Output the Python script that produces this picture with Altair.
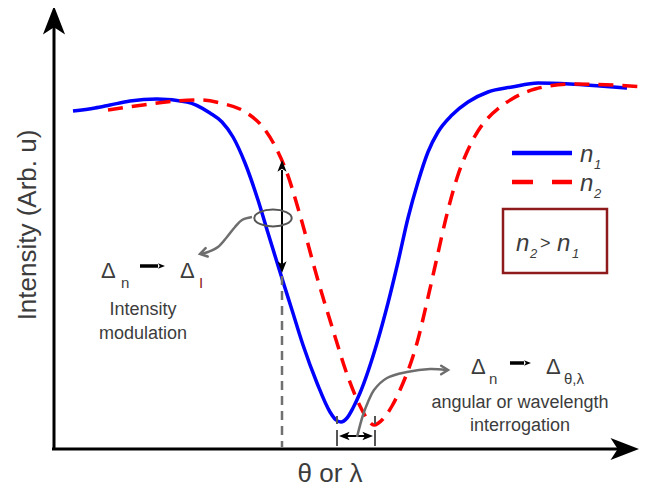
import altair as alt
import pandas as pd

# ---- curve data (x = angle/wavelength position, y = intensity position; schematic units) ----
blue_x = [73, 95, 110, 130, 157, 187, 210, 222, 233, 245, 258, 268, 280, 292, 303, 317, 330, 336, 341, 347, 353, 360,
          377, 388, 398, 408, 418, 428, 438, 452, 468, 488, 512, 538, 570, 600, 627]
blue_y = [111, 108, 105, 101, 99, 102, 113, 122, 137, 163, 200, 233, 272, 310, 345, 383, 412, 420, 422, 418, 408, 393,
          343, 303, 262, 218, 182, 152, 132, 115, 102, 92, 87, 83, 84, 86, 88]
red_x = [108, 143, 177, 200, 220, 247, 262, 275, 287, 300, 317, 333, 348, 360, 368, 374, 383, 392, 400, 417, 429, 436,
         446, 457, 467, 478, 488, 500, 512, 535, 573, 613, 645]
red_y = [110, 105, 101, 100, 103, 113, 126, 146, 173, 215, 277, 330, 377, 406, 420, 425, 419, 406, 390, 343, 293, 262,
         218, 178, 152, 131, 118, 107, 99, 89, 84, 85, 87]

# ---- annotation geometry ----
axis_x = [54, 54]
axis_y = [449, 24]
xaxis_x = [52, 622]
xaxis_y = [449, 449]

FONT = "Liberation Sans"
TXT = "#3c3c3c"
GRAY = "#6e6e6e"

X = alt.X("x:Q", scale=alt.Scale(domain=[8, 647], nice=False, zero=False), axis=None)
Y = alt.Y("y:Q", scale=alt.Scale(domain=[8, 489], nice=False, zero=False, reverse=True), axis=None)

def line(xs, ys, **kw):
    df = pd.DataFrame({"x": xs, "y": ys, "o": list(range(len(xs)))})
    return alt.Chart(df).mark_line(**kw).encode(x=X, y=Y, order="o:Q")

ARROW = "M0,0 L0.7,1.8 L0,1.35 L-0.7,1.8 Z"
CHEV = "M-0.75,1.2 L0,0 L0.75,1.2"

def heads(xs, ys, angles, size, color="black", path=ARROW, filled=True, sw=2):
    df = pd.DataFrame({"x": xs, "y": ys, "a": angles})
    if filled:
        m = alt.Chart(df).mark_point(shape=path, filled=True, fill=color, strokeWidth=0, size=size, opacity=1)
    else:
        m = alt.Chart(df).mark_point(shape=path, filled=False, stroke=color, strokeWidth=sw, size=size, opacity=1,
                                     strokeJoin="miter", strokeCap="round")
    return m.encode(x=X, y=Y, angle=alt.Angle("a:Q", scale=None))

def texts(items, size, color=TXT, style="normal", align="left", baseline="alphabetic", font=FONT, angle=0):
    df = pd.DataFrame(items, columns=["t", "x", "y"])
    kw = dict(fontSize=size, color=color, fontStyle=style, align=align, baseline=baseline, font=font)
    if angle:
        kw["angle"] = angle
    return alt.Chart(df).mark_text(**kw).encode(x=X, y=Y, text="t:N")

layers = []
# axes
layers.append(line(axis_x, axis_y, color="black", strokeWidth=3))
layers.append(line(xaxis_x, xaxis_y, color="black", strokeWidth=3))
layers.append(heads([54, 639], [6, 449], [0, 90], 1000))

# curves
layers.append(line(blue_x, blue_y, color="#0000ff", strokeWidth=3.5, interpolate="monotone"))
layers.append(line(red_x, red_y, color="#ff0000", strokeWidth=3.5, interpolate="monotone", strokeDash=[15, 9]))

# intensity modulation annotation
layers.append(line([282, 282], [276, 447], color="#707070", strokeWidth=2.5, strokeDash=[9, 6]))
layers.append(line([282, 282], [170, 264], color="black", strokeWidth=2))
layers.append(heads([282, 282], [160, 273], [0, 180], 170))
ell = pd.DataFrame({"x": [273], "y": [218]})
layers.append(alt.Chart(ell).mark_point(shape="M-1,0 A1,0.45 0 1,0 1,0 A1,0.45 0 1,0 -1,0 Z", filled=False,
                                        stroke="#555555", strokeWidth=2, size=1400, opacity=1).encode(x=X, y=Y))
layers.append(line([252, 242, 235, 227, 218, 208, 201], [217, 220, 227, 237, 247, 252, 254],
                   color=GRAY, strokeWidth=2.5, interpolate="catmull-rom"))
layers.append(heads([200], [254], [256], 130, color=GRAY, path=CHEV, filled=False, sw=2.5))
# small black arrows inside the delta expressions
layers.append(line([140, 158], [266, 266], color="black", strokeWidth=3.5))
layers.append(heads([165], [266], [90], 60))
layers.append(line([510, 524], [363, 363], color="black", strokeWidth=3.5))
layers.append(heads([531], [363], [90], 60))

# angular interrogation annotation
layers.append(line([337, 337], [416, 424], color="#555555", strokeWidth=2))
layers.append(line([375, 375], [416, 424], color="#555555", strokeWidth=2))
layers.append(line([337, 337], [430, 446], color="#555555", strokeWidth=2))
layers.append(line([375, 375], [430, 446], color="#555555", strokeWidth=2))
layers.append(line([345, 367], [436, 436], color="black", strokeWidth=2))
layers.append(heads([339, 373], [436, 436], [270, 90], 140))
layers.append(line([357, 363, 368, 374, 387, 407, 430, 446], [437, 415, 402, 390, 378, 372, 369, 370],
                   color=GRAY, strokeWidth=2.5, interpolate="catmull-rom"))
layers.append(heads([448], [370], [90], 130, color=GRAY, path=CHEV, filled=False, sw=2.5))

# legend
layers.append(line([512, 572], [153, 153], color="#0000ff", strokeWidth=4.5))
layers.append(line([512, 572], [182, 182], color="#ff0000", strokeWidth=4.5, strokeDash=[21, 19]))
box = pd.DataFrame({"x": [503], "x2": [607], "y": [209], "y2": [273]})
layers.append(alt.Chart(box).mark_rect(fill="white", stroke="#8e1b1b", strokeWidth=2.5).encode(
    x=X, x2="x2:Q", y=Y, y2="y2:Q"))

# texts
layers.append(texts([("Intensity (Arb. u)", 28, 225)], 26, align="center", baseline="middle", angle=270))
layers.append(texts([("θ or λ", 330, 482)], 26, align="center"))
layers.append(texts([("n", 580, 162), ("n", 580, 191), ("n", 516, 251), ("n", 557, 251)], 24, style="italic"))
layers.append(texts([("1", 594, 169), ("2", 594, 198), ("2", 530, 258), ("1", 572, 258)], 13, style="italic"))
layers.append(texts([(">", 540, 249)], 18))
layers.append(texts([("Δ", 101, 278), ("Δ", 180, 278), ("Δ", 471, 374), ("Δ", 546, 374)], 22))
layers.append(texts([("n", 121, 288), ("n", 489, 384), ("θ,λ", 564, 384)], 15))
layers.append(texts([("I", 199, 288)], 15, color="#8e1b1b"))
layers.append(texts([("Intensity", 143, 315), ("modulation", 143, 339)], 18, align="center"))
layers.append(texts([("angular or wavelength", 520, 408), ("interrogation", 520, 431)], 18, align="center"))

chart = alt.layer(*layers).properties(
    width=639, height=481, padding=0,
    autosize=alt.AutoSizeParams(type="none"),
).configure_view(stroke=None)

chart.save("out.html", embed_options={"renderer": "svg", "actions": False})
